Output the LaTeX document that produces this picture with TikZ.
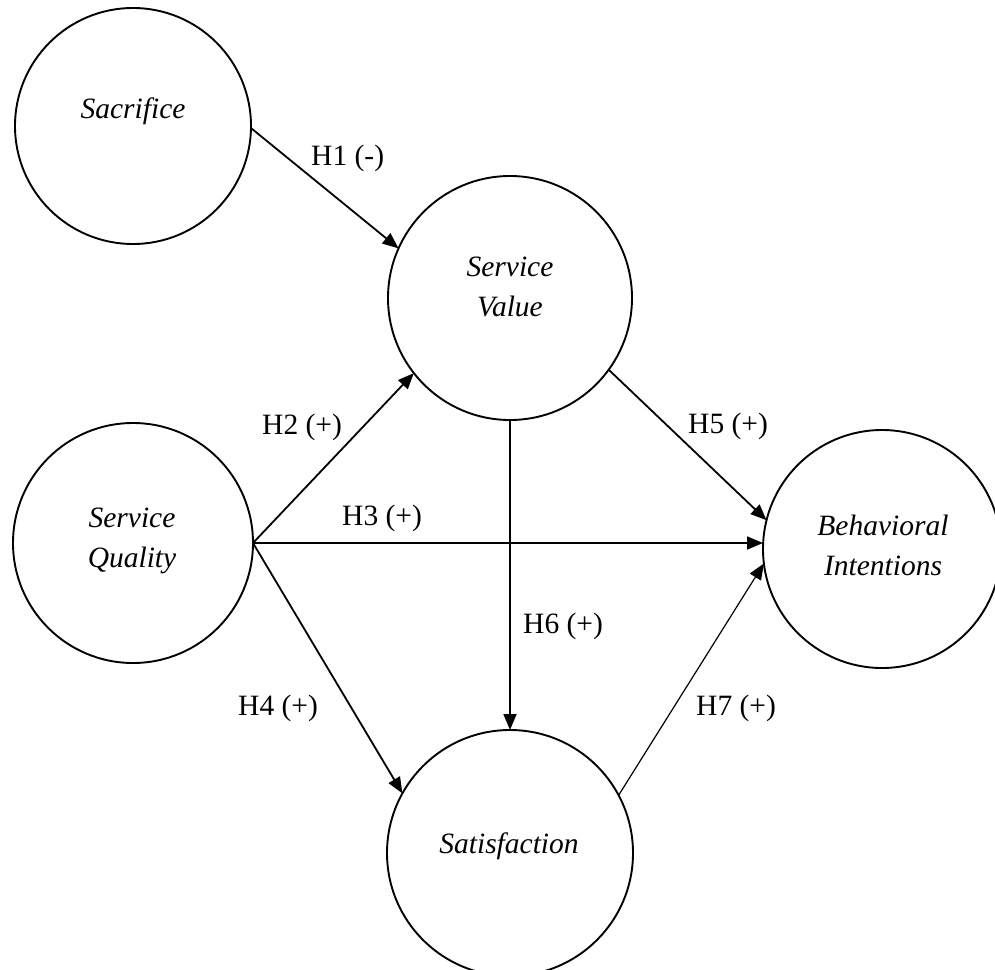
\documentclass[tikz,border=0pt]{standalone}
\usepackage{fontspec}
\setmainfont{Liberation Serif}
\usetikzlibrary{arrows.meta}
\begin{document}
\begin{tikzpicture}[x=1pt,y=-1pt,
  construct/.style={circle,draw,line width=1.9pt,inner sep=0pt,outer sep=0pt},
  cname/.style={font=\fontsize{29.5}{40}\selectfont\itshape,inner sep=0pt,anchor=base},
  hyp/.style={font=\fontsize{29.5}{36}\selectfont,inner sep=0pt,anchor=base west},
  link/.style={line width=1.8pt,-{Triangle[length=16pt,width=13pt]}},
  thinlink/.style={link,line width=1.2pt},
]
\useasboundingbox (0,0) rectangle (995,969);
\clip (0,0) rectangle (995,969);

% constructs
\node[construct,minimum size=236pt] (sac) at (133,126) {};
\node[construct,minimum size=244pt] (sv)  at (510,298) {};
\node[construct,minimum size=240pt] (sq)  at (133,543) {};
\node[construct,minimum size=238pt] (bi)  at (882,549) {};
\node[construct,minimum size=246pt] (sat) at (510,853) {};

% construct names
\node[cname] (sactxt) at (133,118) {Sacrifice};
\node[cname] (svtxt)  at (510,276) {\begin{tabular}[t]{@{}c@{}}Service\\Value\end{tabular}};
\node[cname] (sqtxt)  at (132,527) {\begin{tabular}[t]{@{}c@{}}Service\\Quality\end{tabular}};
\node[cname] (bitxt)  at (883,535) {\begin{tabular}[t]{@{}c@{}}Behavioral\\Intentions\end{tabular}};
\node[cname] (sattxt) at (509,853) {Satisfaction};

% hypothesised paths
\draw[link] (sac.-1) -- (sv.156);
\draw[link] (sq.east) -- (sv.218);
\draw[link] (sq.east) -- (sq.east -| bi.west);
\draw[link] (sq.east) -- (sat.151);
\draw[link] (sv.-36) -- (bi.166);
\draw[link] (sv.south) -- (sat.north);
\draw[thinlink] (sat.28) -- (bi.187);

% path labels
\node[hyp] (h1) at (311,165) {H1 (-)};
\node[hyp] (h2) at (262,434) {H2 (+)};
\node[hyp] (h3) at (342,525) {H3 (+)};
\node[hyp] (h4) at (238,715) {H4 (+)};
\node[hyp] (h5) at (688,433) {H5 (+)};
\node[hyp] (h6) at (523,633) {H6 (+)};
\node[hyp] (h7) at (696,715) {H7 (+)};
\end{tikzpicture}
\end{document}
